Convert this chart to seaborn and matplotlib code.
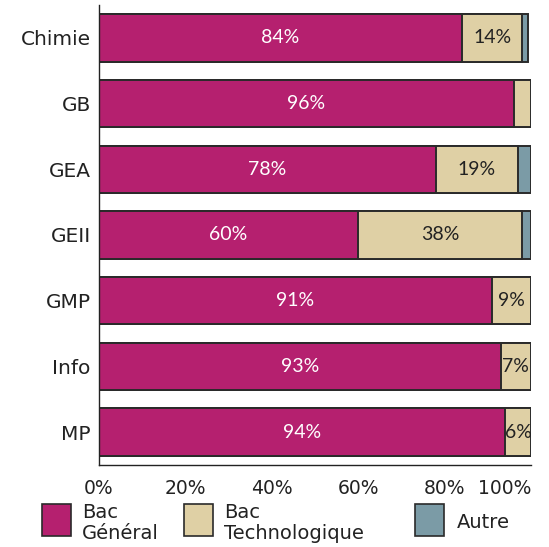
import matplotlib
matplotlib.use("Agg")
import matplotlib.pyplot as plt
import seaborn as sns
import pandas as pd
from matplotlib.patches import Rectangle

categories = ["Chimie", "GB", "GEA", "GEII", "GMP", "Info", "MP"]
bac_general = [84, 96, 78, 60, 91, 93, 94]
bac_techno = [14, 4, 19, 38, 9, 7, 6]
autre = [1.2, 0, 3, 2, 0, 0, 0]
series_names = ["Bac\nGénéral", "Bac\nTechnologique", "Autre"]
tick_values = [0, 20, 40, 60, 80, 100]
tick_labels = ["0%", "20%", "40%", "60%", "80%", "100%"]

col_gen = "#B5206F"
col_tech = "#DFD0A5"
col_aut = "#7B9BA6"
edge = "#2a2a2a"

sns.set_style("white")
plt.rcParams["font.family"] = ["DejaVu Sans"]

df = pd.DataFrame({"cat": categories, "gen": bac_general, "tech": bac_techno, "aut": autre})
df["cum_tech"] = df["gen"] + df["tech"]
df["cum_aut"] = df["cum_tech"] + df["aut"]

fig = plt.figure(figsize=(5.49, 5.47), dpi=100)
ax = fig.add_axes([99/549, (547-465)/547, (531-99)/549, (465-5)/547])

common = dict(y="cat", orient="h", width=0.72, edgecolor=edge, linewidth=1.4, ax=ax, order=categories)
sns.barplot(data=df, x="cum_aut", color=col_aut, saturation=1, **common)
sns.barplot(data=df, x="cum_tech", color=col_tech, saturation=1, **common)
sns.barplot(data=df, x="gen", color=col_gen, saturation=1, **common)

for i, (g, t) in enumerate(zip(bac_general, bac_techno)):
    ax.text(g / 2, i, f"{g}%", ha="center", va="center", color="white", fontsize=14, family="Lato")
    if t > 5:
        ax.text(g + t / 2, i, f"{t}%", ha="center", va="center", color="#222222", fontsize=14, family="Lato")

ax.set_xlim(0, 100)
ax.set_ylim(6.5, -0.5)
ax.set_xticks(tick_values)
ax.set_xticklabels(tick_labels)
ax.get_xticklabels()[-1].set_horizontalalignment("right")
ax.set_xlabel("")
ax.set_ylabel("")
for s in ["top", "right"]:
    ax.spines[s].set_visible(False)
for s in ["left", "bottom"]:
    ax.spines[s].set_color("#222222")
    ax.spines[s].set_linewidth(1.0)
ax.tick_params(axis="x", direction="in", length=6, width=1, color="#222222", labelsize=13.5, pad=10, labelcolor="#222222")
ax.tick_params(axis="y", length=0, labelsize=14.5, pad=6, labelcolor="#222222")

# legend
H = 547.0
W = 549.0
colors = [col_gen, col_tech, col_aut]
sq_x = [42, 184, 415]
txt_x = [82, 224, 457]
for c, sx, tx, name in zip(colors, sq_x, txt_x, series_names):
    fig.patches.append(Rectangle((sx / W, 1 - 536 / H), 29 / W, 32 / H, transform=fig.transFigure,
                                 facecolor=c, edgecolor=edge, linewidth=1.2))
    fig.text(tx / W, 1 - 523 / H, name, ha="left", va="center", fontsize=14, color="#222222",
             linespacing=1.1)

fig.savefig("out.png", dpi=100)
